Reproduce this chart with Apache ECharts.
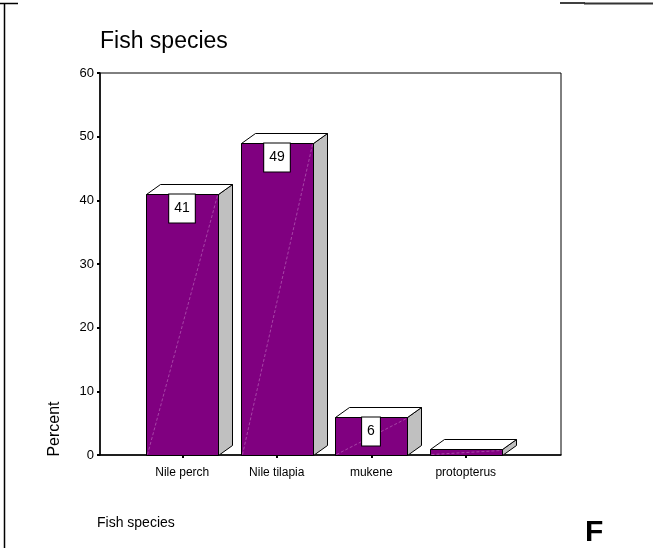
<!DOCTYPE html>
<html>
<head>
<meta charset="utf-8">
<title>Fish species</title>
<script src="https://cdn.jsdelivr.net/npm/echarts@6/dist/echarts.min.js"></script>
<style>
  html, body { margin: 0; padding: 0; background: #fff; }
  #chart { width: 653px; height: 548px; }
</style>
</head>
<body>
<div id="chart"></div>
<script>
// Share of catch by fish species (percent)
const categories = ['Nile perch', 'Nile tilapia', 'mukene', 'protopterus'];
const percentValues = [41, 49, 6, 0.9];
const valueLabels = ['41', '49', '6', ''];
const yMin = 0;
const yMax = 60;
const yStep = 10;

const FONT = '"Liberation Sans", Arial, Helvetica, sans-serif';
const PURPLE = '#800080';
const SIDE = '#c0c0c0';

const chart = echarts.init(document.getElementById('chart'), null, { renderer: 'canvas' });

// 3D-looking bar: purple front face, white top, grey side, black outlines
function renderBar(params, api) {
  const idx = params.dataIndex;
  const v = api.value(1);
  const base = api.coord([api.value(0), 0]);
  const top = api.coord([api.value(0), v]);
  const w = api.size([1, 0])[0] * 0.762;
  const x0 = Math.round(base[0] - w / 2) + 0.5;
  const x1 = Math.round(base[0] + w / 2) + 0.5;
  const yb = Math.round(base[1]) + 0.5;
  const yt = Math.round(top[1]) + 0.5;
  const dx = 14, dy = 10;
  const outline = { stroke: '#000', lineWidth: 1 };
  const children = [
    {
      type: 'polygon',
      shape: { points: [[x1, yb], [x1 + dx, yb - dy], [x1 + dx, yt - dy], [x1, yt]] },
      style: Object.assign({ fill: SIDE }, outline)
    },
    {
      type: 'polygon',
      shape: { points: [[x0, yt], [x0 + dx, yt - dy], [x1 + dx, yt - dy], [x1, yt]] },
      style: Object.assign({ fill: '#fff' }, outline)
    },
    {
      type: 'rect',
      shape: { x: x0, y: yt, width: x1 - x0, height: yb - yt },
      style: Object.assign({ fill: PURPLE }, outline)
    },
    {
      type: 'line',
      shape: { x1: x0 + 1, y1: yb - 1, x2: x1 - 1, y2: yt + 1 },
      style: { stroke: 'rgba(235,190,235,0.45)', lineWidth: 0.8, lineDash: [3, 2] }
    }
  ];
  const label = valueLabels[idx];
  if (label) {
    children.push({
      type: 'text',
      style: {
        text: label,
        x: Math.round(base[0]),
        y: yt,
        align: 'center',
        verticalAlign: 'top',
        fontFamily: FONT,
        fontSize: 14,
        lineHeight: 14,
        fill: '#000',
        backgroundColor: '#fff',
        borderColor: '#000',
        borderWidth: 1,
        padding: [7, 5, 7, 5]
      }
    });
  }
  return { type: 'group', children: children };
}

const option = {
  animation: false,
  backgroundColor: '#fff',
  textStyle: { fontFamily: FONT },
  title: {
    text: 'Fish species',
    left: 95,
    top: 25,
    textStyle: { fontFamily: FONT, fontSize: 23, fontWeight: 'normal', color: '#000' }
  },
  grid: [
    // frame grid: box, axis lines and percent scale
    { left: 100, top: 73, width: 461, height: 382, show: true, borderColor: '#000', borderWidth: 1, backgroundColor: 'transparent' },
    // data grid: category bands
    { left: 135, top: 73, width: 378, height: 382 }
  ],
  xAxis: [
    {
      gridIndex: 0, type: 'value', min: 0, max: 1,
      axisLine: { show: true, lineStyle: { color: '#000', width: 1.5 } },
      axisTick: { show: false }, axisLabel: { show: false }, splitLine: { show: false }
    },
    {
      gridIndex: 1, type: 'category', data: categories,
      axisLine: { show: false },
      axisTick: { show: true, alignWithLabel: true, length: 3, lineStyle: { color: '#000', width: 2 } },
      axisLabel: { color: '#000', fontFamily: FONT, fontSize: 12, margin: 12 },
      splitLine: { show: false }
    }
  ],
  yAxis: [
    {
      gridIndex: 0, type: 'value', min: yMin, max: yMax, interval: yStep,
      axisLine: { show: true, lineStyle: { color: '#000', width: 1.5 } },
      axisTick: { show: true, length: 3, lineStyle: { color: '#000', width: 2 } },
      axisLabel: { color: '#000', fontFamily: FONT, fontSize: 13, margin: 6 },
      splitLine: { show: false }
    },
    {
      gridIndex: 1, type: 'value', min: yMin, max: yMax, interval: yStep, show: false,
      splitLine: { show: false }
    }
  ],
  series: [
    {
      type: 'custom',
      xAxisIndex: 1,
      yAxisIndex: 1,
      renderItem: renderBar,
      data: percentValues.map(function (v, i) { return [i, v]; }),
      clip: false
    }
  ],
  graphic: [
    // outer frame lines
    { type: 'line', shape: { x1: 4.5, y1: 3, x2: 4.5, y2: 548 }, style: { stroke: '#000', lineWidth: 1.5 } },
    { type: 'line', shape: { x1: 0, y1: 3.5, x2: 18, y2: 3.5 }, style: { stroke: '#000', lineWidth: 1.5 } },
    { type: 'line', shape: { x1: 560, y1: 3, x2: 585, y2: 3 }, style: { stroke: '#000', lineWidth: 1.5 } },
    { type: 'line', shape: { x1: 584, y1: 3.5, x2: 653, y2: 3.5 }, style: { stroke: '#333', lineWidth: 2 } },
    {
      type: 'text', x: 55, y: 429, rotation: Math.PI / 2,
      style: { text: 'Percent', fontFamily: FONT, fontSize: 16, fill: '#000', align: 'center', verticalAlign: 'middle' }
    },
    {
      type: 'text', x: 97, y: 516,
      style: { text: 'Fish species', fontFamily: FONT, fontSize: 14, fill: '#000', align: 'left', verticalAlign: 'top' }
    },
    {
      type: 'text', x: 585, y: 518,
      style: { text: 'F', fontFamily: FONT, fontSize: 30, fontWeight: 'bold', fill: '#000', align: 'left', verticalAlign: 'top' }
    }
  ]
};

chart.setOption(option);
</script>
</body>
</html>
